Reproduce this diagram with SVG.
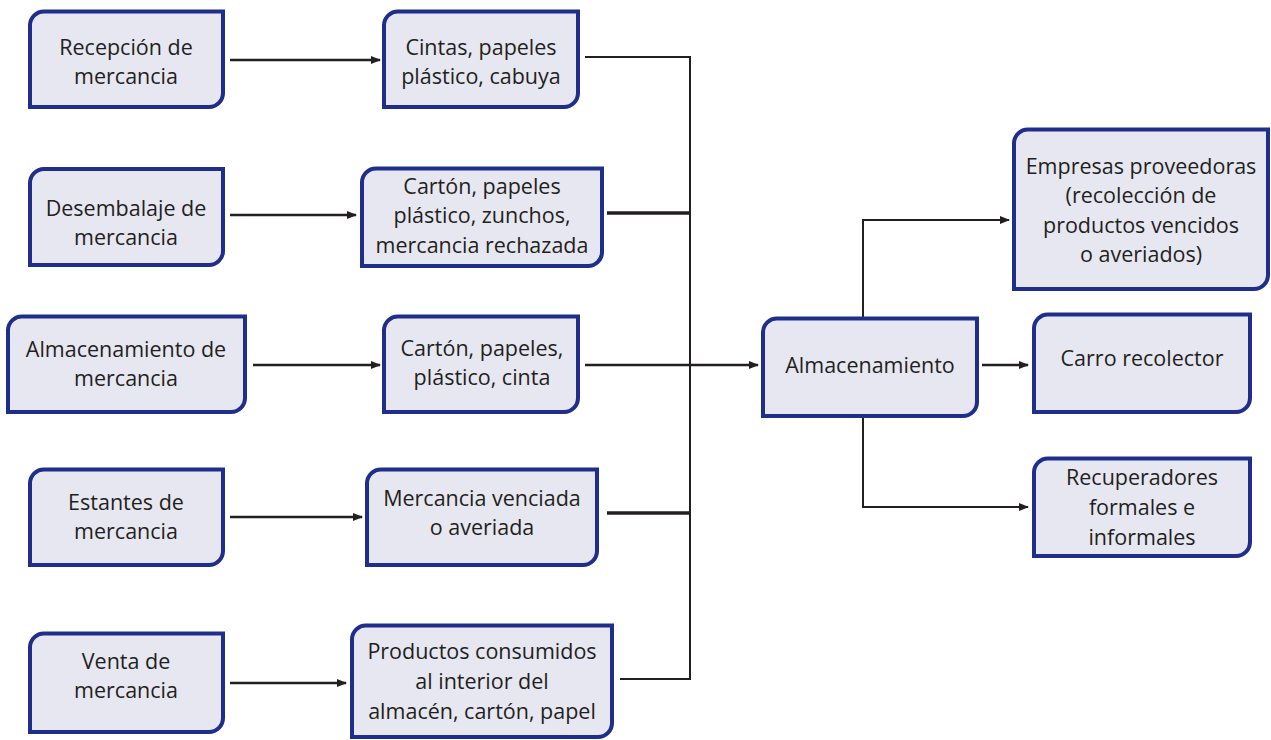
<svg xmlns="http://www.w3.org/2000/svg" width="1271" height="740" viewBox="0 0 1271 740">
<defs>
<marker id="ah" markerWidth="10" markerHeight="8" refX="9" refY="4" orient="auto" markerUnits="userSpaceOnUse">
<path d="M0,0 L10,4 L0,8 Z" fill="#231f20"/>
</marker>
<style>
.box{fill:#e7e7f2;stroke:#1f2e8a;stroke-width:4}
.t{font-family:"Open Sans","Noto Sans",sans-serif;font-size:21.5px;fill:#231f20;text-anchor:middle}
.c{fill:none;stroke:#231f20;stroke-width:2.5}
.k{fill:none;stroke:#231f20;stroke-width:3.5}
.v{fill:none;stroke:#231f20;stroke-width:2}
</style>
</defs>
<rect width="1271" height="740" fill="#fff"/>
<g id="connectors">
<path class="c" d="M230,60 H380" marker-end="url(#ah)"/>
<path class="c" d="M230,215 H356" marker-end="url(#ah)"/>
<path class="c" d="M253,365 H380" marker-end="url(#ah)"/>
<path class="c" d="M230,517 H362" marker-end="url(#ah)"/>
<path class="c" d="M230,683 H346" marker-end="url(#ah)"/>
<path class="v" d="M585,57 H690 V679 H620"/>
<path class="k" d="M607,213 H690"/>
<path class="k" d="M607,513 H690"/>
<path class="c" d="M585,365 H758" marker-end="url(#ah)"/>
<path class="v" d="M863,317 V220 H1009" marker-end="url(#ah)"/>
<path class="v" d="M863,417 V507 H1028" marker-end="url(#ah)"/>
<path class="c" d="M982,365 H1028" marker-end="url(#ah)"/>
</g>
<g id="n1"><path class="box" d="M30,25 A14,14 0 0 1 44,11.5 H223 V93 A14,14 0 0 1 209,107 H30 Z"/>
<text class="t" x="126" y="55">Recepción de</text><text class="t" x="126" y="84">mercancia</text></g>
<g id="n2"><path class="box" d="M384,25 A14,14 0 0 1 398,11.5 H578 V93 A14,14 0 0 1 564,107 H384 Z"/>
<text class="t" x="481" y="55">Cintas, papeles</text><text class="t" x="481" y="84">plástico, cabuya</text></g>
<g id="n3"><path class="box" d="M30,183 A14,14 0 0 1 44,169 H223 V251 A14,14 0 0 1 209,265 H30 Z"/>
<text class="t" x="126" y="216">Desembalaje de</text><text class="t" x="126" y="245">mercancia</text></g>
<g id="n4"><path class="box" d="M362,182 A14,14 0 0 1 376,168.5 H602 V252 A14,14 0 0 1 588,266 H362 Z"/>
<text class="t" x="482" y="194">Cartón, papeles</text><text class="t" x="482" y="223">plástico, zunchos,</text><text class="t" x="482" y="253">mercancia rechazada</text></g>
<g id="n5"><path class="box" d="M8,330 A14,14 0 0 1 22,316.5 H245 V398 A14,14 0 0 1 231,412 H8 Z"/>
<text class="t" x="126" y="357">Almacenamiento de</text><text class="t" x="126" y="386">mercancia</text></g>
<g id="n6"><path class="box" d="M384,330 A14,14 0 0 1 398,316.5 H578 V398 A14,14 0 0 1 564,412 H384 Z"/>
<text class="t" x="482" y="356">Cartón, papeles,</text><text class="t" x="482" y="385">plástico, cinta</text></g>
<g id="n7"><path class="box" d="M30,483 A14,14 0 0 1 44,469.5 H223 V551 A14,14 0 0 1 209,565 H30 Z"/>
<text class="t" x="126" y="510">Estantes de</text><text class="t" x="126" y="539">mercancia</text></g>
<g id="n8"><path class="box" d="M367,483 A14,14 0 0 1 381,469.5 H597 V551 A14,14 0 0 1 583,565 H367 Z"/>
<text class="t" x="482" y="506">Mercancia venciada</text><text class="t" x="482" y="535">o averiada</text></g>
<g id="n9"><path class="box" d="M30,647 A14,14 0 0 1 44,633.5 H223 V718 A14,14 0 0 1 209,732 H30 Z"/>
<text class="t" x="126" y="669">Venta de</text><text class="t" x="126" y="698">mercancia</text></g>
<g id="n10"><path class="box" d="M352,639 A14,14 0 0 1 366,625.5 H612 V723 A14,14 0 0 1 598,737 H352 Z"/>
<text class="t" x="482" y="659">Productos consumidos</text><text class="t" x="482" y="689">al interior del</text><text class="t" x="482" y="719">almacén, cartón, papel</text></g>
<g id="n11"><path class="box" d="M763,332 A14,14 0 0 1 777,318.5 H977 V402 A14,14 0 0 1 963,416 H763 Z"/>
<text class="t" x="870" y="373">Almacenamiento</text></g>
<g id="n12"><path class="box" d="M1014,143 A14,14 0 0 1 1028,129.5 H1268 V275 A14,14 0 0 1 1254,289 H1014 Z"/>
<text class="t" x="1141" y="174">Empresas proveedoras</text><text class="t" x="1141" y="203">(recolección de</text><text class="t" x="1141" y="233">productos vencidos</text><text class="t" x="1141" y="262">o averiados)</text></g>
<g id="n13"><path class="box" d="M1034,328 A14,14 0 0 1 1048,314.5 H1250 V398 A14,14 0 0 1 1236,412 H1034 Z"/>
<text class="t" x="1142" y="366">Carro recolector</text></g>
<g id="n14"><path class="box" d="M1034,472 A14,14 0 0 1 1048,458.5 H1250 V542 A14,14 0 0 1 1236,556 H1034 Z"/>
<text class="t" x="1142" y="485">Recuperadores</text><text class="t" x="1142" y="515">formales e</text><text class="t" x="1142" y="545">informales</text></g>
</svg>
